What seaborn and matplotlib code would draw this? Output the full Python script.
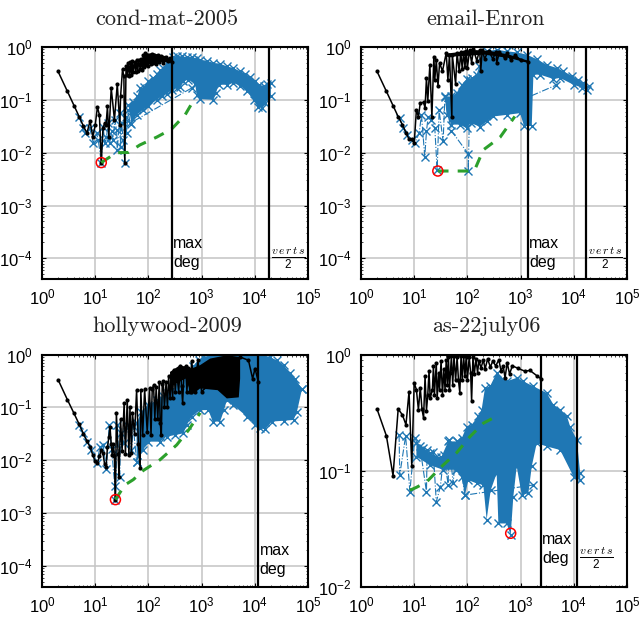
import matplotlib
matplotlib.use('Agg')
import matplotlib.pyplot as plt
from matplotlib.ticker import LogLocator, NullFormatter
import seaborn as sns

BLUE = '#1f77b4'
GREEN = '#2ca02c'

# cond-mat-2005
cond_black_x = [2,3,4,5,6,7,8,9,10,11,12,13,14,15,16,17,18,20,23,26,29,30,32.6,34.6,36,38,40,42,44,46,48,50,52,55,58,60,63,66,70,73,77,80,84,88,92,96,100,105,110,115,120,130,140,150,160,175,190,210,230,250,277]
cond_black_y = [.346,.145,.078,.048,.032,.0235,.04,.02,.033,.073,.052,.0065,.029,.036,.034,.075,.02,.167,.042,.2,.034,.116,.38,.28,.0063,.43,.3,.5,.28,.52,.3,.55,.33,.52,.34,.58,.35,.56,.38,.6,.36,.7,.42,.78,.45,.72,.43,.7,.47,.75,.5,.72,.48,.7,.52,.68,.5,.66,.55,.62,.52]
cond_mass_up_x = [70,90,130,200,277]
cond_mass_up_y = [.55,.75,.75,.68,.57]
cond_mass_lo_x = [70,100,150,200,277]
cond_mass_lo_y = [.42,.47,.5,.52,.5]
cond_up_x = [41.9,52,62,69,82,99,120,143,165,190,220,255,295,340,420,525,648,810,935,1250,1670,2230,2970,3970,5300,6600,8170,10100,11800,14600,17000,20000]
cond_up_y = [.081,.093,.116,.167,.175,.224,.259,.312,.361,.4,.5,.559,.646,.685,.665,.646,.646,.61,.575,.55,.5,.483,.43,.4,.346,.312,.27,.224,.193,.185,.202,.21]
cond_lo_x = [48,60,80,99,143,178,220,272,340,395,455,565,755,810,935,1670,1870,2080,2970,3970,5300,7100,9460,11400,13600,15800,20000]
cond_lo_y = [.035,.052,.065,.075,.1,.116,.13,.151,.167,.175,.224,.24,.202,.125,.103,.1,.135,.193,.193,.208,.185,.145,.1,.073,.07,.087,.116]
cond_sparse_x = [5,5.9,6.4,7.9,9.2,10.6,11.4,13.1,14.1,15.2,16.3,17.5,18.9,20.3,21.7,23.4,25.2,26,29.1,30,31.4,33.6,36,37.7,38.9,41.9,44.9,648]
cond_sparse_y = [.048,.029,.0234,.029,.0152,.0234,.0175,.0063,.031,.0152,.02,.036,.0152,.0253,.0175,.042,.027,.0113,.056,.0131,.036,.0175,.0063,.048,.0234,.065,.036,.167]
cond_green_x = [13,25,42,69,143,273,490,700]
cond_green_y = [.0065,.01,.0101,.014,.0197,.028,.052,.096]

# email-Enron
enron_black_x = [2,3,4,5,6,7,8,9,10,11,12,13,15,16,17,18,19.7,21.5,23.4,24.4,26,28,30,34,40,43,46,51,52,60,64,70,75,80,85,90,95,100,110,120,130,150,170,178,190,210,250,300,350,355,400,500,550,650,800,1000,1383]
enron_black_y = [.346,.145,.078,.048,.034,.024,.018,.018,.015,.065,.048,.087,.09,.07,.26,.095,.46,.047,.66,.24,.57,.18,.5,.35,.77,.24,.72,.048,.71,.2,.77,.35,.8,.38,.82,.42,.85,.4,.88,.5,.9,.55,.88,.35,.88,.6,.85,.6,.82,.5,.8,.62,.76,.58,.7,.56,.53]
enron_mass_up_x = [40,70,120,250,600,1383]
enron_mass_up_y = [.75,.8,.88,.85,.72,.55]
enron_mass_lo_x = [40,100,200,600,1383]
enron_mass_lo_y = [.65,.68,.72,.62,.5]
enron_up_x = [37.7,50,62.6,77.6,97,120,149,167,192,230,355,548,840,1306,2000,3100,4800,6400,9100,11900,15000,19000]
enron_up_y = [.116,.116,.135,.193,.248,.26,.3,.43,.665,.83,.89,.83,.79,.716,.59,.46,.4,.346,.286,.24,.21,.18]
enron_lo_x = [40.6,50,72,97,115,172,230,307,548,977,1160,1620,1740,2300,4150,5500,9890,14400,17600]
enron_lo_y = [.052,.034,.034,.029,.0365,.031,.039,.0485,.052,.056,.032,.032,.3,.3,.248,.26,.193,.17,.151]
enron_sparse_x = [5.35,6.2,7.4,8.9,10.2,12.4,13.7,15.8,17,18.3,21.1,24.4,27,29.4,35,37.7,50,104,104,112,470,4650]
enron_sparse_y = [.045,.029,.0217,.0175,.0152,.0234,.052,.0083,.0253,.048,.042,.029,.0047,.063,.0165,.112,.026,.0095,.0045,.24,.07,.19]
enron_green_x = [27.8,104,138,199,410,780]
enron_green_y = [.0045,.0045,.0048,.0113,.0195,.0485]

# hollywood-2009
holly_black_x = [2,3,4,5,6,7,8,9,10,11,12,13,14,15,16,17,18,19,20,21,22,23,24,25,27,28,30,32,35,37,40,43,45,48,50,55,60,65,70,72,78,85,95,105,112,118,125,132,140,150,160,167,175,182,190,200,215,228,240,255,270,285,300,320,340,370,400,420,440,470,500,530,560,600,650,750,850,1000,5300,7600,9100,10100,11700]
holly_black_y = [.337,.14,.077,.048,.032,.023,.0178,.0126,.0095,.0088,.0118,.0157,.0135,.0085,.0076,.0178,.027,.043,.02,.0126,.02,.012,.0018,.08,.013,.0049,.06,.015,.12,.013,.14,.0126,.1,.014,.08,.032,.21,.02,.0071,.21,.03,.22,.035,.23,.03,.22,.26,.06,.24,.06,.3,.05,.03,.28,.32,.1,.3,.1,.4,.15,.38,.15,.5,.2,.48,.2,.62,.25,.12,.55,.6,.2,.55,.2,.75,.2,.78,.2,.9,.78,.35,.545,.3]
holly_mass_up_x = [255,393,652,935,1445,2980,5300]
holly_mass_up_y = [.47,.63,.545,.63,.84,.97,.9]
holly_mass_lo_x = [255,500,652,935,2000,2980,5000,5300]
holly_mass_lo_y = [.245,.352,.171,.228,.212,.148,.155,.352]
holly_up_x = [60,74,99,143,190,236,294,365,423,525,700,875,1080,1670,5300,14600,19000,26000,35000,46500,58000,77000]
holly_up_y = [.05,.083,.11,.137,.164,.184,.219,.305,.352,.44,.6,.78,.9,1,1,.97,.9,.78,.63,.44,.352,.22]
holly_lo_x = [60,80,99,165,220,315,454,525,650,935,1340,1620,2230,2640,2980,3970,7100,10100,12600,15700,20900,35000,53700,62000,77000]
holly_lo_y = [.0093,.0157,.0225,.0225,.028,.03,.0323,.046,.067,.089,.089,.054,.054,.089,.137,.11,.067,.0465,.04,.0385,.054,.056,.058,.083,.22]
holly_sparse_x = [5,5.9,7.1,8.5,10.9,12.2,14.1,16.3,18.3,20.3,23.4,24,26,29,30,34.6,38.9,48,52,60]
holly_sparse_y = [.0465,.0323,.0225,.0157,.0089,.0178,.0191,.0069,.0465,.0166,.0032,.0018,.0465,.0049,.0323,.021,.0465,.0157,.0438,.0093]
holly_green_x = [24,36,52,80,165,340,565,940]
holly_green_y = [.0018,.0034,.0043,.0064,.0102,.0195,.037,.079]

# as-22july06
as_black_x = [2,3,4,5,6,7,8,9,10,11,12,13,14,15,16,17,18,19,20,22,23,24,26,27,29,30,32,34,36,38,40,42,44,46,48,50,53,56,60,64,68,72,76,80,85,90,95,100,108,115,120,127,135,145,155,165,180,200,215,240,270,300,340,390,430,470,510,560,620,700,900,1200,1500,2000,2400]
as_black_y = [.34,.2,.091,.34,.303,.249,.48,.11,.57,.5,.335,.52,.34,.284,.65,.33,.45,.72,.42,.5,.8,.45,.85,.42,.7,.5,.88,.45,.75,.5,.9,.55,.95,.5,.7,.97,.55,.98,.6,.95,.6,.47,.98,.6,.97,.65,.98,.6,.95,.7,.4,.95,.68,.92,.7,.88,.77,.9,.75,.92,.78,.88,.8,.9,.72,.8,.63,.85,.68,.8,.76,.72,.73,.66,.62]
as_up_x = [11,14.7,19.7,26,32.5,43.6,62.6,78,97,120,160,185,214,266,355,548,845,1120,1740,3100,4150,5540,7450,8550,11400,13200]
as_up_y = [.173,.156,.142,.132,.132,.179,.179,.19,.24,.249,.294,.335,.515,.533,.695,.589,.63,.589,.533,.467,.37,.335,.294,.24,.185,.095]
as_lo_x = [11,19.7,35,62,78,90,104,149,199,230,274,355,382,548,651,730,845,1050,1400,1620,2010,3100,5540,9890,13200]
as_lo_y = [.132,.112,.102,.102,.089,.0617,.083,.078,.0755,.038,.068,.095,.0352,.0352,.0279,.06,.109,.062,.064,.109,.173,.162,.151,.089,.083]
as_sparse_x = [5.2,5.35,6.9,8.3,10.2,12.8,17,17.5,22.8,26,31,36,43.6,44.8,54,62.6,90,1740]
as_sparse_y = [.204,.092,.2,.066,.19,.162,.066,.151,.146,.054,.0728,.137,.0755,.185,.0778,.179,.0617,.0755]
as_green_x = [8.3,11,17,35,62,112,200,330]
as_green_y = [.068,.072,.08,.112,.142,.197,.257,.29]

titles = ['cond-mat-2005', 'email-Enron', 'hollywood-2009', 'as-22july06']
max_deg = [277, 1383, 11700, 2400]
half_verts = [18200, 16900, None, 11600]
min_x = [13, 27.8, 24, 651]
min_y = [.0065, .0045, .0018, .029]
y_low = [4e-5, 4e-5, 4e-5, 1e-2]
label_y = [1.25e-4, 1.25e-4, 1.3e-4, .0211]
frac_y = [1e-4, 1e-4, None, .0176]

sns.set_theme(style='white')
plt.rcParams['font.family'] = ['Liberation Sans', 'DejaVu Sans']
plt.rcParams['mathtext.default'] = 'regular'


def draw(ax, black_x, black_y, up_x, up_y, lo_x, lo_y, sparse_x, sparse_y, green_x, green_y):
    # the blue cloud is one solid mass in the original, so fill between its edges
    ax.fill(up_x + lo_x[::-1], up_y + lo_y[::-1], color=BLUE, lw=0, zorder=2)
    for xs, ys in [(up_x, up_y), (lo_x, lo_y)]:
        sns.lineplot(x=xs, y=ys, ax=ax, color=BLUE, lw=0, marker='x', ms=6, mew=1, mec=BLUE,
                     sort=False, estimator=None, zorder=2)
    sns.lineplot(x=sparse_x, y=sparse_y, ax=ax, color=BLUE, lw=0.8, linestyle='-.', marker='x', ms=6,
                 mew=1, mec=BLUE, sort=False, estimator=None, zorder=2)
    sns.lineplot(x=black_x, y=black_y, ax=ax, color='black', lw=1.1, marker='o', ms=3, mew=0,
                 mec='black', sort=False, estimator=None, zorder=3)
    sns.lineplot(x=green_x, y=green_y, ax=ax, color=GREEN, lw=2.2, linestyle=(0, (3.5, 3)),
                 sort=False, estimator=None, zorder=4)


fig, axes = plt.subplots(2, 2, figsize=(6.39, 6.18), dpi=100)
fig.patch.set_facecolor('white')
fig.subplots_adjust(left=42/639, right=627/639, top=1-47/618, bottom=1-587/618,
                    wspace=53/266, hspace=75/232)
axes = axes.ravel()

draw(axes[0], cond_black_x, cond_black_y, cond_up_x, cond_up_y, cond_lo_x, cond_lo_y, cond_sparse_x, cond_sparse_y, cond_green_x, cond_green_y)
draw(axes[1], enron_black_x, enron_black_y, enron_up_x, enron_up_y, enron_lo_x, enron_lo_y, enron_sparse_x, enron_sparse_y, enron_green_x, enron_green_y)
draw(axes[2], holly_black_x, holly_black_y, holly_up_x, holly_up_y, holly_lo_x, holly_lo_y, holly_sparse_x, holly_sparse_y, holly_green_x, holly_green_y)
draw(axes[3], as_black_x, as_black_y, as_up_x, as_up_y, as_lo_x, as_lo_y, as_sparse_x, as_sparse_y, as_green_x, as_green_y)
axes[0].fill(cond_mass_up_x + cond_mass_lo_x[::-1], cond_mass_up_y + cond_mass_lo_y[::-1], color='black', lw=0, zorder=3)
axes[1].fill(enron_mass_up_x + enron_mass_lo_x[::-1], enron_mass_up_y + enron_mass_lo_y[::-1], color='black', lw=0, zorder=3)
axes[2].fill(holly_mass_up_x + holly_mass_lo_x[::-1], holly_mass_up_y + holly_mass_lo_y[::-1], color='black', lw=0, zorder=3)

for i, ax in enumerate(axes):
    ax.set_xscale('log')
    ax.set_yscale('log')
    ax.set_xlim(1, 1e5)
    ax.set_ylim(y_low[i], 1)
    ax.set_title(titles[i], x=0.47, fontsize=16, family='cmr10', pad=16, color='#222222')

    ax.grid(True, which='major', color='#c4c4c4', lw=1.1)
    ax.set_axisbelow(True)
    for s in ax.spines.values():
        s.set_visible(True)
        s.set_color('black')
        s.set_linewidth(1.5)
        s.set_zorder(6)

    ax.xaxis.set_major_locator(LogLocator(base=10, numticks=12))
    ax.yaxis.set_major_locator(LogLocator(base=10, numticks=12))
    ax.xaxis.set_minor_locator(LogLocator(base=10, subs=range(2, 10), numticks=12))
    ax.yaxis.set_minor_locator(LogLocator(base=10, subs=range(2, 10), numticks=12))
    ax.xaxis.set_minor_formatter(NullFormatter())
    ax.yaxis.set_minor_formatter(NullFormatter())
    ax.tick_params(which='major', direction='in', top=True, right=True, bottom=True, left=True,
                   length=3, width=0.8, labelsize=12, colors='black')
    ax.tick_params(which='minor', direction='in', top=True, right=True, bottom=True, left=True,
                   length=1.5, width=0.6)
    ax.tick_params(axis='x', which='major', pad=6)
    ax.tick_params(axis='y', which='major', pad=7)

    ax.axvline(max_deg[i], color='black', lw=1.6, zorder=5)
    ax.text(max_deg[i]*1.05, label_y[i], 'max\ndeg', fontsize=11.5, color='black', va='center',
            ha='left', linespacing=1.35, zorder=6)
    if half_verts[i] is not None:
        ax.axvline(half_verts[i], color='black', lw=1.6, zorder=5)
        ax.text(half_verts[i]*1.1, frac_y[i], r'$\frac{\mathit{v\,e\,r\,t\,s}}{2}$', fontsize=12,
                color='black', va='center', ha='left', math_fontfamily='cm', zorder=6)
    # marks the smallest value in the blue cloud
    sns.scatterplot(x=[min_x[i]], y=[min_y[i]], ax=ax, s=52, facecolor='none', edgecolor='red',
                    linewidth=1.1, zorder=7, clip_on=False)

fig.savefig('out.png', dpi=100)
